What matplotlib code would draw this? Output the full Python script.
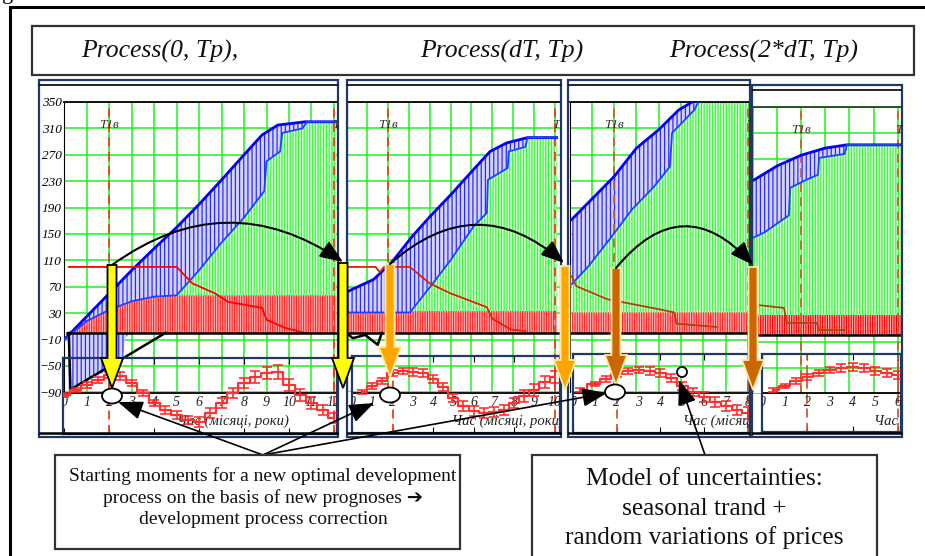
import numpy as np
import matplotlib
matplotlib.use("Agg")
import matplotlib.pyplot as plt
from matplotlib.patches import Rectangle, Ellipse, Circle, FancyArrow, FancyArrowPatch, ArrowStyle

W, H = 925, 556
plt.rcParams['hatch.linewidth'] = 0.9
SERIF = ['Liberation Serif', 'DejaVu Serif']
SERIF_SYM = ['Liberation Serif', 'DejaVu Sans']

# ---------------- texts ----------------
titles = ["Process(0, Tp),", "Process(dT, Tp)", "Process(2*dT, Tp)"]
marker_label = "T1в"
time_label = "Час (місяці, роки)"
note_left = ["Starting moments for a new optimal development",
             "process on the basis of new prognoses \u2794",
             "development process correction"]
note_right = ["Model of uncertainties:", "seasonal trand +", "random variations of prices"]
y_ticks = [350, 310, 270, 230, 190, 150, 110, 70, 30, -10, -50, -90]

# ---------------- panel 1 : Process(0, Tp) ----------------
p1_top_x = [0, 1, 2, 3, 4, 5, 6, 7, 8, 8.8, 9.5, 10.7, 12.1]
p1_top_y = [-10, 25, 60, 95, 128, 160, 195, 232, 270, 300, 315, 320, 320]
p1_low_x = [0, 1, 2, 3, 4, 5, 6, 7, 8, 8.9, 9.0, 9.6, 9.7, 10.6, 10.8, 12.1]
p1_low_y = [-10, 18, 35, 48, 55, 57, 95, 137, 175, 215, 260, 275, 303, 310, 320, 320]
p1_floor_x = [0.2, 1, 2, 2.6, 2.7, 3.5, 4.4, 5]
p1_floor_y = [-88, -72, -56, -45, -8, 22, 54, 57]
p1_red_x = [0.2, 5.0, 5.7, 6.7, 7.3, 8.8, 9.0, 9.8, 10.7, 11.0]
p1_red_y = [100, 100, 75, 60, 47, 38, 20, 8, 0, 0]
p1_cash_x = [0.2, 0.27, 4.5]
p1_cash_y = [0, -86, 0]
p1_cap = 57
p1_sub_x = [0, 0.5, 1, 1.5, 2, 2.5, 3, 3.5, 4, 4.5, 5, 5.5, 6, 6.5, 7, 7.5, 8, 8.5, 9, 9.5, 10, 10.5, 11, 11.5, 12]
p1_sub_y = [-2, 3, 8, 13, 18, 17, 10, 0, -10, -17, -22, -27, -29, -20, -10, 0, 10, 16, 20, 21, 8, -2, -10, -17, -25]
p1_sub_e = [2, 2, 3, 3, 3, 4, 3, 3, 3, 4, 4, 4, 5, 5, 5, 5, 5, 6, 6, 7, 6, 6, 6, 5, 5]
p1_ticks = list(range(0, 13))

# ---------------- panel 2 : Process(dT, Tp) ----------------
p2_top_x = [0, 1.3, 2.2, 3.15, 4, 5, 6, 6.9, 7.7, 8.7, 10.1]
p2_top_y = [62, 81, 108, 146, 176, 209, 244, 275, 288, 296, 296]
p2_low_x = [0, 3.05, 4, 5, 6.1, 6.75, 6.8, 7.75, 7.8, 8.6, 8.7, 10.1]
p2_low_y = [31, 31, 69, 110, 161, 182, 232, 250, 275, 282, 296, 296]
p2_red_x = [0, 1.4, 1.6, 1.8, 3.05, 4, 5, 6.75, 7.0, 7.9, 8.6]
p2_red_y = [100, 100, 92, 100, 100, 75, 60, 39, 22, 5, 3]
p2_cash_x = [0, 0.3, 0.9, 1.5, 1.7]
p2_cash_y = [0, -8, -3, -18, 0]
p2_cap = 33
p2_sub_x = [0.5, 1, 1.5, 2, 2.5, 3, 3.5, 4, 4.5, 5, 5.5, 6, 6.5, 7, 7.5, 8, 8.5, 9, 9.5, 10]
p2_sub_y = [1, 7, 12, 20, 22, 21, 20, 14, 6, -5, -13, -18, -20, -19, -17, -10, -3, 3, 11, 16]
p2_sub_e = [2, 3, 3, 3, 3, 4, 4, 4, 4, 4, 5, 5, 5, 5, 5, 5, 6, 6, 6, 6]
p2_ticks = list(range(0, 11))

# ---------------- panel 3 : Process(2*dT, Tp) ----------------
p3_top_x = [0.1, 2, 3, 4, 4.9, 5.5, 6.5, 8.1]
p3_top_y = [172, 237, 280, 308, 338, 350, 372, 372]
p3_low_x = [0.1, 0.85, 1.8, 2.8, 3.8, 4.5, 4.6, 5.6, 6.1, 8.1]
p3_low_y = [74, 101, 142, 187, 222, 252, 303, 338, 372, 372]
p3_red_x = [0.1, 0.3, 1.7, 4.0, 4.7, 4.8, 6.6]
p3_red_y = [86, 71, 51, 36, 31, 14, 9]
p3_cap = 31
p3_sub_x = [0.3, 1, 1.5, 2, 2.5, 3, 3.5, 4, 4.5, 5, 5.5, 6, 6.5, 7, 7.5, 8]
p3_sub_y = [3, 9, 14, 19, 22, 23, 22, 20, 15, 7, 1, -4, -9, -13, -17, -20]
p3_sub_e = [2, 2, 3, 3, 3, 3, 4, 4, 4, 4, 4, 5, 5, 5, 5, 6]
p3_ticks = list(range(0, 9))

# ---------------- panel 4 : next step ----------------
p4_top_x = [0.05, 1.03, 2, 3, 3.9, 6.2]
p4_top_y = [238, 260, 276, 287, 292, 292]
p4_low_x = [0.05, 0.5, 1.5, 1.55, 2.2, 2.7, 2.75, 3.8, 3.9, 6.2]
p4_low_y = [150, 158, 184, 226, 238, 246, 272, 278, 292, 292]
p4_red_x = [0.3, 1.3, 1.4, 2.65, 2.75, 3.8]
p4_red_y = [46, 42, 19, 19, 8, 8]
p4_cap = 31
p4_sub_x = [0.5, 1, 1.5, 2, 2.5, 3, 3.5, 4, 4.5, 5, 5.5, 6]
p4_sub_y = [3, 7, 12, 16, 20, 23, 25, 26, 25, 22, 20, 18]
p4_sub_e = [2, 2, 3, 3, 3, 3, 4, 4, 4, 4, 4, 4]
p4_ticks = list(range(0, 7))

panels = [
    dict(top=(p1_top_x, p1_top_y), low=(p1_low_x, p1_low_y), floor=(p1_floor_x, p1_floor_y),
         red=(p1_red_x, p1_red_y), cap=p1_cap, cash=(p1_cash_x, p1_cash_y),
         sub=(p1_sub_x, p1_sub_y, p1_sub_e), ticks=p1_ticks, end=12,
         main=(64.3, 102, 337, 392.3), unit=22.47, subbox=(63, 358, 337, 434),
         frame=(39, 80, 338, 437), inner=85, redc='#ff0000', dash='#e8401a', xl=7.5,
         redfill='#ff2a2a'),
    dict(top=(p2_top_x, p2_top_y), low=(p2_low_x, p2_low_y), floor=None,
         red=(p2_red_x, p2_red_y), cap=p2_cap, cash=(p2_cash_x, p2_cash_y),
         sub=(p2_sub_x, p2_sub_y, p2_sub_e), ticks=p2_ticks, end=10,
         main=(346.5, 102, 560, 392.3), unit=20.8, subbox=(352, 356, 560, 433),
         frame=(347, 80, 561, 437), inner=85, redc='#e02000', dash='#e8401a', xl=7.7,
         redfill='#ff2a2a'),
    dict(top=(p3_top_x, p3_top_y), low=(p3_low_x, p3_low_y), floor=None,
         red=(p3_red_x, p3_red_y), cap=p3_cap, cash=None,
         sub=(p3_sub_x, p3_sub_y, p3_sub_e), ticks=p3_ticks, end=8,
         main=(569.5, 102, 750, 392.3), unit=22.3, subbox=(573, 354, 750, 433),
         frame=(568, 80, 750, 437), inner=85, redc='#b04010', dash='#c8602a', xl=7.6,
         redfill='#ff2a2a'),
    dict(top=(p4_top_x, p4_top_y), low=(p4_low_x, p4_low_y), floor=None,
         red=(p4_red_x, p4_red_y), cap=p4_cap, cash=None,
         sub=(p4_sub_x, p4_sub_y, p4_sub_e), ticks=p4_ticks, end=6,
         main=(752.6, 107, 901, 394), unit=24.2, subbox=(762, 354, 901, 432),
         frame=(752, 85, 902, 437), inner=90, redc='#b04010', dash='#c8602a', xl=7.4,
         redfill='#ff0000'),
]

fig = plt.figure(figsize=(W / 100, H / 100), dpi=100)
fig.patch.set_facecolor('white')


def px_axes(l, t, r, b, z=1):
    ax = fig.add_axes([l / W, 1 - b / H, (r - l) / W, (b - t) / H])
    ax.set_zorder(z)
    return ax


for i, P in enumerate(panels):
    l, t, r, b = P['main']
    ue = (r - l) / P['unit']
    ax = px_axes(l, t, r, b, z=1)
    ax.set_xlim(0, ue)
    ax.set_ylim(-90, 350)
    ax.set_xticks(np.arange(0, int(ue) + 1))
    ax.set_yticks(y_ticks)
    ax.grid(True, color='#22ee22', lw=1.1)
    ax.set_axisbelow(True)
    ax.tick_params(length=0, labelbottom=False)
    if i == 0:
        ax.tick_params(axis='y', pad=2)
        for lab in ax.get_yticklabels():
            lab.set_fontfamily(SERIF)
            lab.set_fontstyle('italic')
            lab.set_fontsize(9.5)
    else:
        ax.tick_params(labelleft=False)
    for s in ['right', 'bottom']:
        ax.spines[s].set_visible(False)
    ax.spines['top'].set_color('#1a4a1a' if i == 3 else 'black')
    ax.spines['top'].set_linewidth(1.3)
    ax.spines['left'].set_color('black')
    ax.spines['left'].set_visible(i != 3)

    tx, ty = P['top']
    lx, ly = P['low']
    xf = np.linspace(tx[0], tx[-1], 1500)
    tt = np.interp(xf, tx, ty)
    ll = np.interp(xf, lx, ly)
    bottom = ll.copy()
    if P['floor'] is not None:
        fx, fy = P['floor']
        bottom = np.minimum(ll, np.interp(xf, fx, fy, left=1e9, right=1e9))
    # blue hatched band (range of optimal trajectories)
    ax.fill_between(xf, bottom, tt, where=tt > bottom + 0.5, facecolor='#d4d4ff',
                    edgecolor='#2a2aff', hatch='||||', linewidth=0, zorder=2)
    # green hatched area
    cap = P['cap']
    ax.fill_between(xf, cap, ll, where=ll > cap, facecolor='#d2ffd2',
                    edgecolor='#44f044', hatch='||||||', linewidth=0, zorder=2)
    # red hatched area
    xr = np.linspace(lx[0], min(lx[-1], ue), 1500)
    rt = np.minimum(np.interp(xr, lx, ly), cap)
    ax.fill_between(xr, 0, rt, where=rt > 0, facecolor='#ffb4b4',
                    edgecolor=P['redfill'], hatch='|||||||', linewidth=0, zorder=3)
    # lines
    ax.plot(tx, ty, color='#0000ff', lw=2.0, zorder=5)
    ax.plot(lx, ly, color='#2040ff', lw=1.3, zorder=5)
    rx, ry = P['red']
    ax.plot(rx, ry, color=P['redc'], lw=1.3, zorder=5)
    ax.axhline(0, xmin=0.01, xmax=1, color='black', lw=1.8, zorder=5)
    if P['cash'] is not None:
        cx, cy = P['cash']
        ax.plot(cx, cy, color='black', lw=1.8, zorder=5)
    # vertical markers
    end = P['end']
    ax.axvline(2, ymax=0.985, color=P['dash'], ls=(0, (5, 3)), lw=1.3, zorder=4)
    ax.axvline(end, ymax=0.985, color=P['dash'], ls=(0, (5, 3)), lw=1.3, zorder=4)
    ax.text(2, 315, marker_label, ha='center', va='center', fontsize=9.5,
            style='italic', family=SERIF, color='#333333', zorder=6)
    ax.text(end - 0.1, 315, marker_label, ha='left', va='center', fontsize=9.5,
            style='italic', family=SERIF, color='#333333', zorder=6, clip_on=True)

    # ---- sub chart: seasonal price model ----
    sl, st, sr, sb = P['subbox']
    sa = px_axes(sl, st, sr, sb, z=2)
    sa.patch.set_alpha(0)
    sa.set_xlim((sl - l) / P['unit'], (sr - l) / P['unit'])
    sa.set_ylim(393 - sb, 393 - st)
    sa.set_yticks([])
    sa.set_xticks(np.arange(0, end + 1, 2))
    sa.tick_params(axis='x', direction='in', top=True, bottom=True, length=4,
                   labelbottom=False, color='black')
    for s in sa.spines.values():
        s.set_color('#1f3864')
        s.set_linewidth(1.6)
    sa.axhline(0, color='black', lw=1.3)
    sa.axvline(2, color=P['dash'], ls=(0, (5, 3)), lw=1.3)
    sa.axvline(end, color=P['dash'], ls=(0, (5, 3)), lw=1.3)
    for tk in P['ticks']:
        sa.text(tk, -9, str(tk), ha='center', va='center', fontsize=10,
                style='italic', family=SERIF, color='#222222', clip_on=True)
    sa.text(P['xl'], -28, time_label, ha='center', va='center', fontsize=10.5,
            style='italic', family=SERIF, color='#222222', clip_on=True)
    sx, sy, se = P['sub']
    sa.errorbar(sx, sy, yerr=se, fmt='none', ecolor='#ff2020', elinewidth=1.1,
                capsize=3.5, capthick=1.1, zorder=4)
    sa.plot(sx, sy, color='#ff3030', lw=1.6, drawstyle='steps-mid', zorder=4)

# ---------------- overlay (frames, arrows, notes) ----------------
ov = fig.add_axes([0, 0, 1, 1])
ov.set_zorder(10)
ov.set_xlim(0, W)
ov.set_ylim(H, 0)
ov.axis('off')

NAVY = '#1f3864'
ov.text(2, -1, 'g', fontsize=16, family=SERIF, va='baseline', ha='left')
ov.plot([10, 10, W], [H, 7, 7], color='black', lw=2.2, solid_joinstyle='miter')

for P in panels:
    fl, ft, fr, fb = P['frame']
    ov.add_patch(Rectangle((fl, ft), fr - fl, fb - ft, fill=False, ec=NAVY, lw=1.6, zorder=2))
    ov.plot([fl + 1, fr - 1], [P['inner'], P['inner']], color='black', lw=1.2, zorder=2)
    ov.plot([fl + 1, fr - 1], [433, 433], color='black', lw=1.8, zorder=2)

# title box
ov.add_patch(Rectangle((32, 26), 882, 49, fc='white', ec='#333333', lw=1.6, zorder=2))
for txt, xc in zip(titles, [160, 502, 764]):
    ov.text(xc, 51, txt, ha='center', va='center', fontsize=18.5, style='italic',
            family=SERIF, color='#111111', zorder=3)

# big vertical arrows
arrows = [(112, 265, 388, '#ffff00', 'black'), (343, 263, 388, '#ffff00', 'black'),
          (390, 264, 377, '#ffa500', '#ffe9a0'), (565, 266, 390, '#ffa500', '#ffe9a0'),
          (616, 268, 385, '#cc6600', '#ffe9a0'), (753, 267, 390, '#cc6600', '#ffe9a0')]
for x, y0, y1, fc, ec in arrows:
    ov.add_patch(FancyArrow(x, y0, 0, y1 - y0, width=9, head_width=22, head_length=30,
                            length_includes_head=True, fc=fc, ec=ec, lw=1.3, zorder=4))

# curved arrows
arc_style = ArrowStyle('-|>', head_length=0.5, head_width=0.2)
for (xa, ya), (xb, yb), rad in [((112, 265), (343, 262), -0.35),
                                ((390, 264), (564, 263), -0.44),
                                ((616, 268), (753, 265), -0.58)]:
    ov.add_patch(FancyArrowPatch((xa, ya), (xb, yb), connectionstyle=f'arc3,rad={rad}',
                                 arrowstyle=arc_style, mutation_scale=28, color='black',
                                 lw=1.5, shrinkA=0, shrinkB=0, zorder=5))

# ellipses (starting moments) and small circle
for xc, yc in [(112, 396), (390, 395), (615, 392)]:
    ov.add_patch(Ellipse((xc, yc), 20, 15, fc='white', ec='black', lw=1.3, zorder=6))
ov.add_patch(Ellipse((682, 372), 10, 10, fc='white', ec='black', lw=1.3, zorder=6))

# pointer arrows from notes
ptr_style = ArrowStyle('-|>', head_length=0.45, head_width=0.17)
for tip in [(118, 402), (374, 403), (607, 393)]:
    ov.add_patch(FancyArrowPatch((263, 455), tip, arrowstyle=ptr_style, mutation_scale=34,
                                 color='black', lw=1.2, shrinkA=0, shrinkB=0, zorder=5))
ov.add_patch(FancyArrowPatch((705, 455), (679, 380), arrowstyle=ptr_style, mutation_scale=34,
                             color='black', lw=1.2, shrinkA=0, shrinkB=0, zorder=5))

# note boxes
ov.add_patch(Rectangle((55, 455), 405, 94, fc='white', ec='#333333', lw=1.6, zorder=6))
for txt, yc in zip(note_left, [476, 498, 520]):
    ov.text(263, yc, txt, ha='center', va='center', fontsize=14, family=SERIF_SYM,
            color='#111111', zorder=7)
ov.add_patch(Rectangle((532, 455), 345, 115, fc='white', ec='#333333', lw=1.6, zorder=6,
                       clip_on=False))
for txt, yc in zip(note_right, [479, 509, 538]):
    ov.text(704, yc, txt, ha='center', va='center', fontsize=18.3, family=SERIF,
            color='#111111', zorder=7)

fig.savefig('out.png', dpi=100)
